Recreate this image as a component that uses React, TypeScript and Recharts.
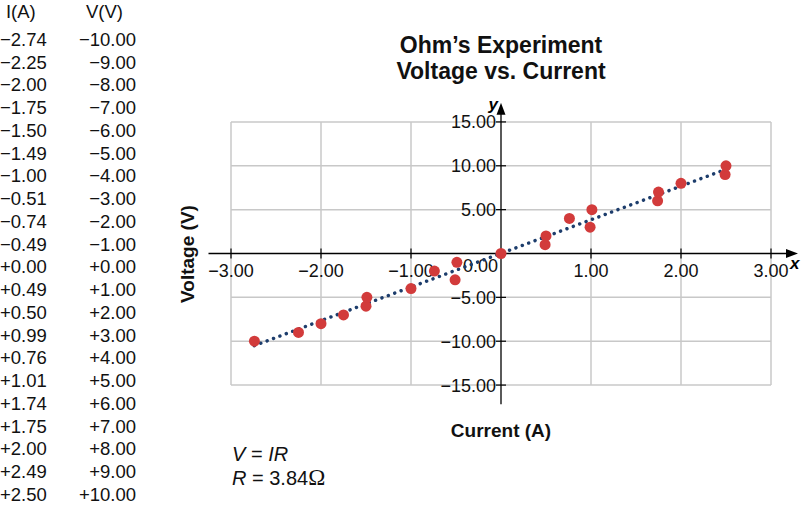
import React from 'react';
import { ScatterChart, Scatter, XAxis, YAxis, ReferenceLine, ReferenceDot } from 'recharts';

// measured data (table on the left)
const currentA = [-2.74, -2.25, -2.0, -1.75, -1.5, -1.49, -1.0, -0.51, -0.74, -0.49, 0.0, 0.49, 0.5, 0.99, 0.76, 1.01, 1.74, 1.75, 2.0, 2.49, 2.5];
const voltageV = [-10, -9, -8, -7, -6, -5, -4, -3, -2, -1, 0, 1, 2, 3, 4, 5, 6, 7, 8, 9, 10];

// fitted line end points
const trendCurrent = [-2.74, 2.5];
const trendVoltage = [-10.5, 9.6];

const xTicks = [-3, -2, -1, 1, 2, 3];
const yTicks = [-15, -10, -5, 5, 10, 15];
const resistance = '3.84';

const FONT = '"Liberation Sans", Arial, Helvetica, sans-serif';

const points = currentA.map((c, i) => ({ x: c, y: voltageV[i] }));
const trend = trendCurrent.map((c, i) => ({ x: c, y: trendVoltage[i] }));

const fmtTick = (v: number) => (v < 0 ? '\u2212' + Math.abs(v).toFixed(2) : v.toFixed(2));
const fmtTable = (v: number) => (v < 0 ? '\u2212' : '+') + Math.abs(v).toFixed(2);

const XTick = (props: any) => (
  <g>
    <line x1={props.cx} x2={props.cx} y1={props.cy - 5} y2={props.cy + 5} stroke="#000" strokeWidth={1.2} />
    <text x={props.cx} y={props.cy + 23} textAnchor="middle" fontSize={18} fontFamily={FONT} fill="#111">
      {fmtTick(props.value)}
    </text>
  </g>
);

const YTick = (props: any) => (
  <g>
    <line x1={props.cx - 5} x2={props.cx + 5} y1={props.cy} y2={props.cy} stroke="#000" strokeWidth={1.2} />
    <text x={props.cx - 5} y={props.cy + 6.5} textAnchor="end" fontSize={18} fontFamily={FONT} fill="#111">
      {fmtTick(props.value)}
    </text>
  </g>
);

const ZeroLabel = (props: any) => (
  <text x={props.cx - 3} y={props.cy + 18} textAnchor="end" fontSize={18} fontFamily={FONT} fill="#111">
    0.00
  </text>
);

const ArrowRight = (props: any) => (
  <g>
    <polygon points={`${props.cx},${props.cy} ${props.cx - 12},${props.cy - 4.5} ${props.cx - 12},${props.cy + 4.5}`} fill="#000" />
    <text x={props.cx - 8} y={props.cy + 15} fontSize={17} fontWeight="bold" fontStyle="italic" fontFamily={FONT}>x</text>
  </g>
);

const ArrowUp = (props: any) => (
  <g>
    <polygon points={`${props.cx},${props.cy} ${props.cx - 4.5},${props.cy + 12} ${props.cx + 4.5},${props.cy + 12}`} fill="#000" />
    <text x={props.cx - 3} y={props.cy + 7} textAnchor="end" fontSize={17} fontWeight="bold" fontStyle="italic" fontFamily={FONT}>y</text>
  </g>
);

const Dot = (props: any) => <circle cx={props.cx} cy={props.cy} r={5.5} fill="#d23b3b" />;

const App: React.FC = () => {
  return (
    <div style={{ position: 'absolute', left: 0, top: 0, width: 801, height: 509, background: '#fff', fontFamily: FONT, color: '#111' }}>
      {/* data table */}
      <div style={{ position: 'absolute', left: 0, top: 1, width: 140, fontSize: 18.5, lineHeight: '22.75px' }}>
        <div style={{ display: 'flex' }}>
          <div style={{ width: 46, textAlign: 'center', paddingLeft: 0 }}>I(A)</div>
          <div style={{ width: 90, textAlign: 'right', paddingRight: 17 }}>V(V)</div>
        </div>
        {currentA.map((c, i) => (
          <div key={i} style={{ display: 'flex', marginTop: i === 0 ? 5 : 0 }}>
            <div style={{ width: 46, textAlign: 'left', whiteSpace: 'nowrap' }}>{fmtTable(c)}</div>
            <div style={{ width: 90, textAlign: 'right', whiteSpace: 'nowrap' }}>{fmtTable(voltageV[i])}</div>
          </div>
        ))}
      </div>

      {/* title */}
      <div style={{ position: 'absolute', left: 301, top: 32, width: 400, textAlign: 'center', fontWeight: 'bold', fontSize: 23, lineHeight: '26px' }}>
        <div>Ohm{'\u2019'}s Experiment</div>
        <div>Voltage vs. Current</div>
      </div>

      {/* axis titles */}
      <div style={{ position: 'absolute', left: 88, top: 243, width: 200, textAlign: 'center', fontWeight: 'bold', fontSize: 19, lineHeight: '22px', transform: 'rotate(-90deg)' }}>
        Voltage (V)
      </div>
      <div style={{ position: 'absolute', left: 401, top: 420, width: 200, textAlign: 'center', fontWeight: 'bold', fontSize: 19, lineHeight: '22px' }}>
        Current (A)
      </div>

      {/* equation */}
      <div style={{ position: 'absolute', left: 232, top: 442, fontSize: 20, lineHeight: '24px' }}>
        <div><i>V</i> = <i>IR</i></div>
        <div><i>R</i> = {resistance}<span style={{ fontFamily: '"Liberation Serif", "DejaVu Serif", serif', fontSize: 23 }}>{'\u03A9'}</span></div>
      </div>

      <div style={{ position: 'absolute', left: 0, top: 0 }}>
        <ScatterChart width={801} height={509} margin={{ top: 100, right: 3, bottom: 102, left: 204 }}>
          <XAxis type="number" dataKey="x" domain={[-3.3, 3.3]} hide allowDataOverflow />
          <YAxis type="number" dataKey="y" domain={[-17.5, 17.5]} hide allowDataOverflow />

          {/* grid */}
          {xTicks.map((t) => (
            <ReferenceLine key={'gx' + t} segment={[{ x: t, y: -15 }, { x: t, y: 15 }]} stroke="#c8c8c8" strokeWidth={1.5} ifOverflow="visible" />
          ))}
          {yTicks.map((t) => (
            <ReferenceLine key={'gy' + t} segment={[{ x: -3, y: t }, { x: 3, y: t }]} stroke="#c8c8c8" strokeWidth={1.5} ifOverflow="visible" />
          ))}

          {/* axes through the origin */}
          <ReferenceLine segment={[{ x: -3.25, y: 0 }, { x: 3.2, y: 0 }]} stroke="#000" strokeWidth={1.3} ifOverflow="visible" />
          <ReferenceLine segment={[{ x: 0, y: -17.2 }, { x: 0, y: 16.4 }]} stroke="#000" strokeWidth={1.3} ifOverflow="visible" />
          <ReferenceDot x={3.3} y={0} ifOverflow="visible" shape={(p: any) => <ArrowRight {...p} />} />
          <ReferenceDot x={0} y={17.2} ifOverflow="visible" shape={(p: any) => <ArrowUp {...p} />} />

          {xTicks.map((t) => (
            <ReferenceDot key={'tx' + t} x={t} y={0} ifOverflow="visible" shape={(p: any) => <XTick {...p} value={t} />} />
          ))}
          {yTicks.map((t) => (
            <ReferenceDot key={'ty' + t} x={0} y={t} ifOverflow="visible" shape={(p: any) => <YTick {...p} value={t} />} />
          ))}
          <ReferenceDot x={0} y={0} ifOverflow="visible" shape={(p: any) => <ZeroLabel {...p} />} />

          <Scatter
            data={trend}
            isAnimationActive={false}
            line={{ stroke: '#1d3d6c', strokeWidth: 3.5, strokeDasharray: '0.01 6.8', strokeLinecap: 'round' } as any}
            shape={() => <g />}
          />
          <Scatter data={points} isAnimationActive={false} shape={(p: any) => <Dot {...p} />} />
        </ScatterChart>
      </div>
    </div>
  );
};

export default App;
